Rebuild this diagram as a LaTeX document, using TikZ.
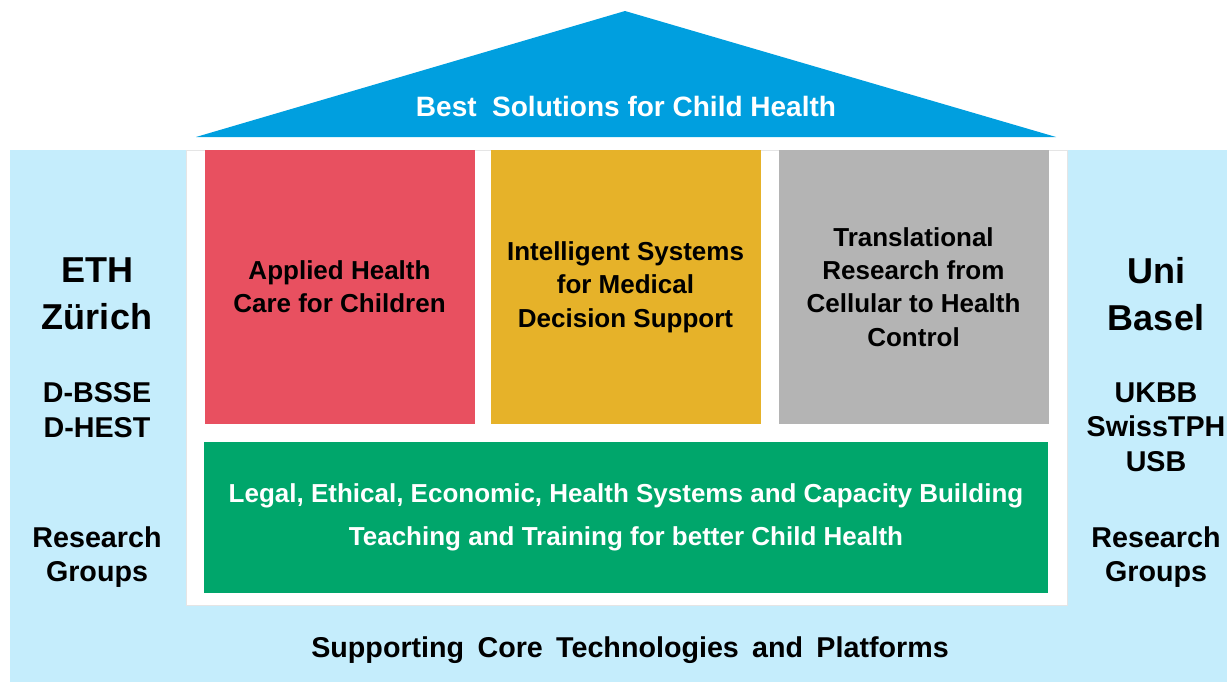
\documentclass[tikz,border=0pt]{standalone}
\usepackage{fontspec}
\setmainfont{Liberation Sans}
\usepackage{xcolor}
\definecolor{roofblue}{RGB}{0,159,223}
\definecolor{sideblue}{RGB}{197,237,252}
\definecolor{pillarred}{RGB}{232,80,96}
\definecolor{pillaryellow}{RGB}{230,178,41}
\definecolor{pillargray}{RGB}{180,180,180}
\definecolor{basegreen}{RGB}{0,166,107}

\begin{document}
\begin{tikzpicture}[x=0.75pt, y=-0.75pt,
    pillar/.style={minimum width=202.5pt, minimum height=205.5pt, inner sep=0pt, align=center, font=\fontsize{19.5}{25}\selectfont\bfseries},
    sidebig/.style={align=center, font=\fontsize{27}{35}\selectfont\bfseries},
    sidesmall/.style={align=center, font=\fontsize{21.5}{26}\selectfont\bfseries}]
    \useasboundingbox (0,0) rectangle (1227,682);

    % Side panels and house body
    \fill[sideblue] (10,150) rectangle (1227,682);
    \filldraw[fill=white, draw=black!10] (186,150) rectangle (1067,605);

    % Roof
    \fill[roofblue] (196,137) -- (625,11) -- (1056,137) -- cycle;
    \node[white, anchor=base, font=\fontsize{21}{24}\selectfont\bfseries] (roof) at (626,116) {Best\ \ Solutions for Child Health};

    % Pillars
    \node[pillar, fill=pillarred] (care) at (339.5,287) {Applied Health\\Care for Children};
    \node[pillar, fill=pillaryellow] (systems) at (625.5,287) {Intelligent Systems\\for Medical\\Decision Support};
    \node[pillar, fill=pillargray] (research) at (913.5,287) {Translational\\Research from\\Cellular to Health\\Control};

    % Foundation
    \node[fill=basegreen, text=white, minimum width=633pt, minimum height=113pt, inner sep=0pt, align=center, font=\fontsize{19.5}{32}\selectfont\bfseries] (legal) at (626,517.5) {Legal, Ethical, Economic, Health Systems and Capacity Building\\Teaching and Training for better Child Health};

    % Left side
    \node[sidebig] (eth) at (97,294) {ETH\\Zürich};
    \node[sidesmall] (dept) at (97,410) {D-BSSE\\D-HEST};
    \node[sidesmall] (groupsl) at (97,557) {Research\\Groups};

    % Right side
    \node[sidebig] (basel) at (1156,294) {Uni\\Basel};
    \node[sidesmall] (inst) at (1156,427) {UKBB\\SwissTPH\\USB};
    \node[sidesmall] (groupsr) at (1156,557) {Research\\Groups};

    % Ground
    \node[anchor=base, font=\fontsize{21.5}{26}\selectfont\bfseries] (platforms) at (630,657) {\spaceskip=10pt\relax Supporting Core Technologies and Platforms};
\end{tikzpicture}
\end{document}
